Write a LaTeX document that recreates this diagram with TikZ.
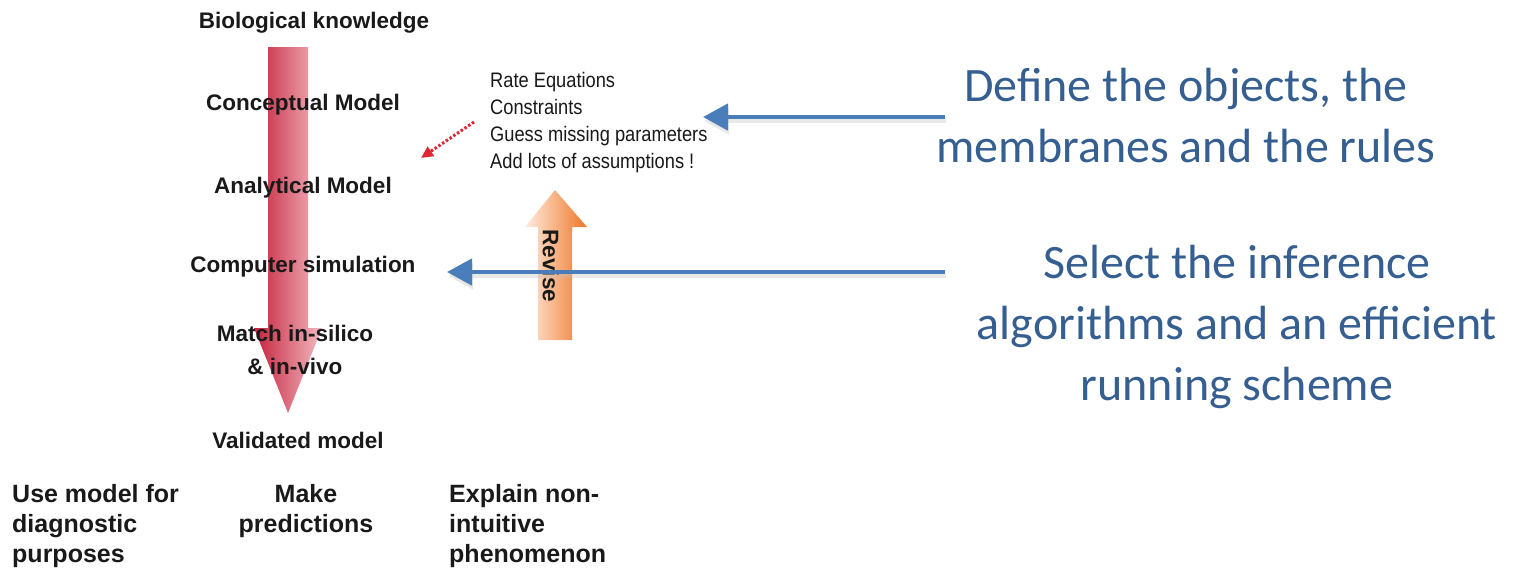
\documentclass[tikz,border=0pt]{standalone}
\usepackage{fontspec}
\setmainfont{Liberation Sans}
\newfontfamily\narrowfont[FakeStretch=0.87]{Liberation Sans}
\newfontfamily\calfont{Carlito}
\usetikzlibrary{arrows.meta}
\definecolor{noteblue}{RGB}{54,95,145}
\definecolor{linkblue}{RGB}{74,126,187}
\definecolor{flowdark}{RGB}{198,34,60}
\definecolor{flowlight}{RGB}{242,186,194}
\definecolor{dotred}{RGB}{220,40,50}
\definecolor{revlight}{RGB}{255,236,222}
\definecolor{revdark}{RGB}{238,118,40}
\definecolor{inkgray}{RGB}{25,25,25}
\tikzset{
  stage/.style={font=\bfseries\fontsize{22.5}{27}\selectfont, text=inkgray, inner sep=0pt},
  outcome/.style={font=\bfseries\fontsize{25}{30}\selectfont, text=inkgray, inner sep=0pt, align=left},
  notes/.style={font=\narrowfont\fontsize{21}{27}\selectfont, text=inkgray, inner sep=0pt, align=left},
  remark/.style={font=\calfont\fontsize{48}{61}\selectfont, text=noteblue, inner sep=0pt, align=center},
  pointer/.style={draw=linkblue, line width=4.5pt, -{Triangle[length=25pt,width=26pt]}},
  pointershadow/.style={draw=black!25, opacity=0.35, line width=4.5pt, -{Triangle[length=25pt,width=26pt]}},
}
\begin{document}
\begin{tikzpicture}[x=1pt,y=-1pt]
\useasboundingbox (0,0) rectangle (1515,571);

% downward modelling flow
\shade[left color=flowdark, right color=flowlight]
  (268,47) -- (308,47) -- (308,328) -- (322,328) -- (288,413)
  -- (254,328) -- (268,328) -- cycle;

% upward revision arrow
\shade[left color=revlight, right color=revdark]
  (538,340) -- (538,227) -- (525,227) -- (555,190) -- (587,227)
  -- (572,227) -- (572,340) -- cycle;
\node[font=\bfseries\fontsize{22.5}{27}\selectfont, text=inkgray, rotate=-90, inner sep=0pt]
  (revise) at (551,266) {Revise};

% stages of the model
\node[stage] (bio)  at (314,23)  {Biological knowledge};
\node[stage] (conc) at (303,105) {Conceptual Model};
\node[stage] (anal) at (303,188) {Analytical Model};
\node[stage] (sim)  at (303,267) {Computer simulation};
\node[stage, align=center, font=\bfseries\fontsize{22.5}{33}\selectfont] (match) at (295,350) {Match in-silico\\\& in-vivo};
\node[stage] (valid) at (298,440) {Validated model};

% uses of the validated model
\node[outcome, anchor=north west] (use) at (12,484) {Use model for\\diagnostic\\purposes};
\node[outcome, align=center, anchor=north] (pred) at (306,484) {Make\\predictions};
\node[outcome, anchor=north west] (expl) at (449,484) {Explain non-\\intuitive\\phenomenon};

% analytical ingredients
\node[notes, anchor=north west] (list) at (490,72)
  {Rate Equations\\Constraints\\Guess missing parameters\\Add lots of assumptions !};
\coordinate (dotstart) at (474,122);
\coordinate (dotend)   at (421,158);
\draw[dotred, line width=3pt, dash pattern=on 2.5pt off 2pt, -{Triangle[length=12pt,width=11pt]}]
  (dotstart) -- (dotend);

% remarks on the right
\node[remark] (def) at (1186,116) {Define the objects, the\\membranes and the rules};
\node[remark] (sel) at (1237,327) {Select the inference\\algorithms and an efficient\\running scheme};

\coordinate (defstart) at (945,117);
\coordinate (defend)   at (703,117);
\coordinate (selstart) at (945,272);
\coordinate (selend)   at (447,272);
\draw[pointershadow] ([shift={(1,4)}]defstart) -- ([shift={(1,4)}]defend);
\draw[pointershadow] ([shift={(1,4)}]selstart) -- ([shift={(1,4)}]selend);
\draw[pointer] (defstart) -- (defend);
\draw[pointer] (selstart) -- (selend);
\end{tikzpicture}
\end{document}
